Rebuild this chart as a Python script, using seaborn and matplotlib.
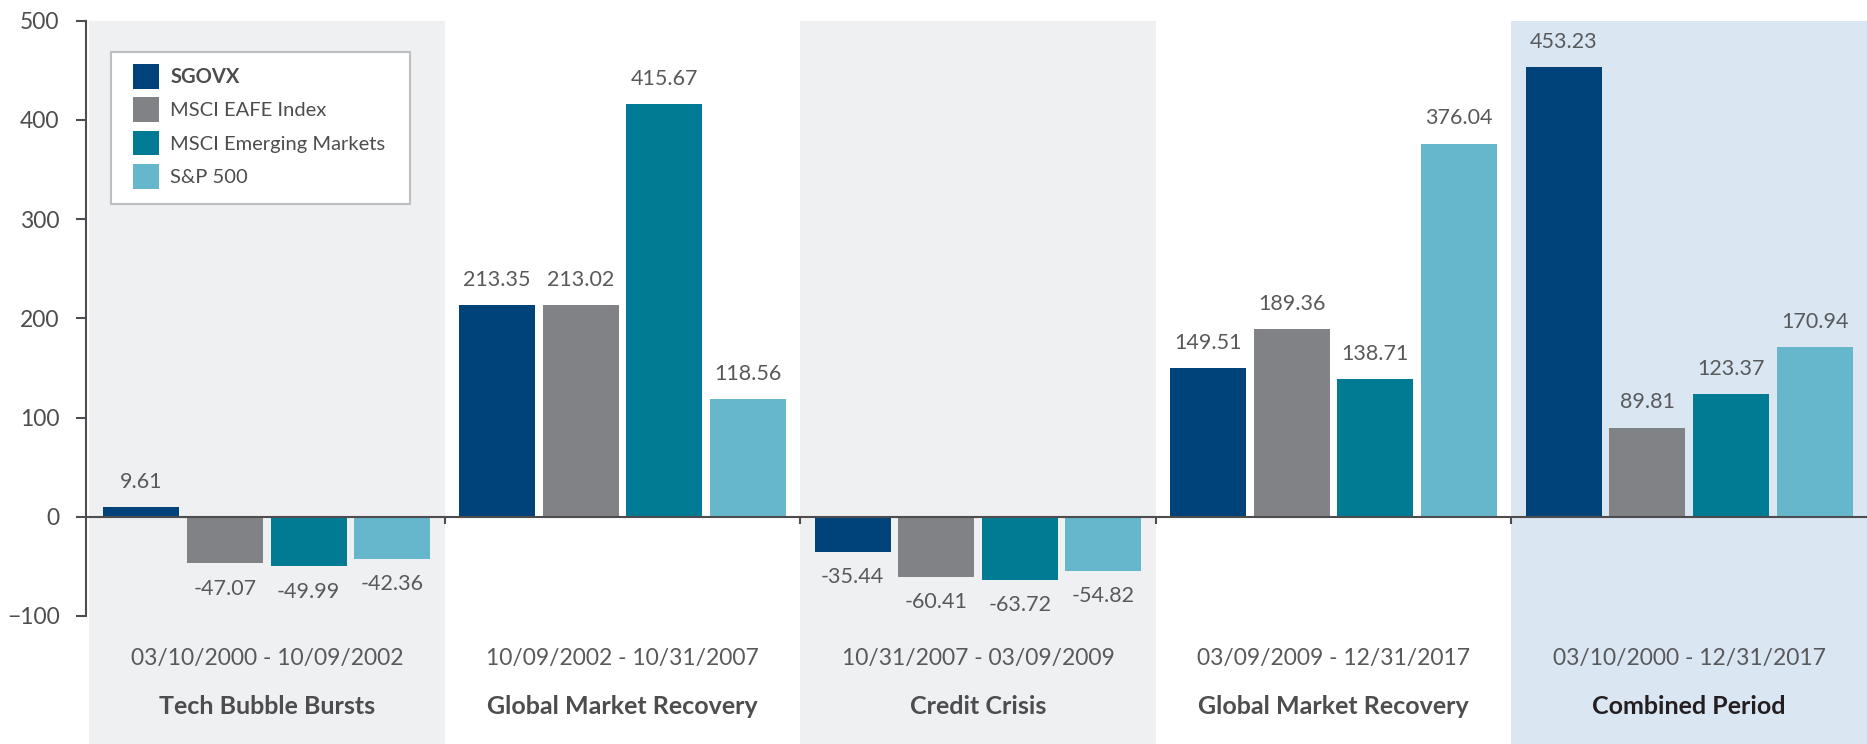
import pandas as pd
import numpy as np
import matplotlib
matplotlib.use('Agg')
import matplotlib.pyplot as plt
import seaborn as sns
from matplotlib.patches import Patch, Rectangle
from matplotlib.transforms import blended_transform_factory

# --- Data ---
periods = ['03/10/2000 - 10/09/2002', '10/09/2002 - 10/31/2007', '10/31/2007 - 03/09/2009',
           '03/09/2009 - 12/31/2017', '03/10/2000 - 12/31/2017']
period_titles = ['Tech Bubble Bursts', 'Global Market Recovery', 'Credit Crisis',
                 'Global Market Recovery', 'Combined Period']
funds = ['SGOVX', 'MSCI EAFE Index', 'MSCI Emerging Markets', 'S&P 500']

sgovx = [9.61, 213.35, -35.44, 149.51, 453.23]
eafe = [-47.07, 213.02, -60.41, 189.36, 89.81]
emerging = [-49.99, 415.67, -63.72, 138.71, 123.37]
sp500 = [-42.36, 118.56, -54.82, 376.04, 170.94]

fund_colors = ['#00427A', '#808285', '#007B93', '#66B7CB']
panel_colors = ['#EFF0F2', None, '#EFF0F2', None, '#DBE6F3']

TEXT = '#4D4D4F'
LIGHT_TEXT = '#58595B'

df = pd.DataFrame({
    'period': np.repeat(periods, 4),
    'fund': funds * 5,
    'value': np.ravel(np.column_stack([sgovx, eafe, emerging, sp500])),
})

sns.set_style('white')
plt.rcParams['font.family'] = ['Lato', 'DejaVu Sans']

W, H = 1867, 744
fig = plt.figure(figsize=(W / 100, H / 100), dpi=100)
ax = fig.add_axes([86 / W, 1 - 616 / H, 1 - 86 / W, (616 - 20.5) / H])
ax.patch.set_alpha(0)

sns.barplot(data=df, x='period', y='value', hue='fund', order=periods, hue_order=funds,
            palette=fund_colors, width=0.94, gap=0.09, errorbar=None, saturation=1,
            linewidth=0, legend=False, ax=ax, zorder=2)

ax.set_xlim(-0.5 - 3 / 356, 4.5)
ax.set_ylim(-100, 500)

# Panel backgrounds, extending below the axes to the figure bottom.
for i, c in enumerate(panel_colors):
    if c:
        ax.axvspan(i - 0.5, i + 0.5, ymin=-0.3, ymax=1, color=c, lw=0,
                   clip_on=False, zorder=0)

# Value labels
for cont in ax.containers:
    ax.bar_label(cont, fmt='%.2f', padding=11, fontsize=15.5, color=LIGHT_TEXT)

# Zero line and separators
ax.axhline(0, color=TEXT, lw=1.5, zorder=3)
ax.vlines(np.arange(len(periods) - 1) + 0.5, -7, 0, color=TEXT, lw=1.5, zorder=3)

# Axes styling
for s in ['top', 'right', 'bottom']:
    ax.spines[s].set_visible(False)
ax.spines['left'].set_color(TEXT)
ax.spines['left'].set_linewidth(1.5)
ax.set_yticks(range(-100, 501, 100))
ax.tick_params(axis='y', left=True, length=7, width=1.5, color=TEXT,
               labelsize=16.5, labelcolor=TEXT, pad=12)
ax.tick_params(axis='x', length=0, labelsize=16.5, labelcolor=LIGHT_TEXT, pad=23)
ax.set_xticks(range(len(periods)))
ax.set_xticklabels(periods)
ax.set_xlabel('')
ax.set_ylabel('')

trans = blended_transform_factory(ax.transData, fig.transFigure)
for i, t in enumerate(period_titles):
    ax.text(i, 1 - 707 / H, t, transform=trans, ha='center', va='center',
            fontsize=18, fontweight='bold',
            color='#231F20' if i == len(period_titles) - 1 else TEXT)

# Legend: frame drawn separately so the padding can match the reference
ax.add_patch(Rectangle((111 / W, 1 - 204 / H), 299 / W, 152 / H,
                       transform=fig.transFigure, facecolor='white',
                       edgecolor='#BCBEC0', lw=1.5, zorder=5, clip_on=False))
handles = [Patch(facecolor=c, edgecolor='none') for c in fund_colors]
leg = ax.legend(handles, funds, loc='upper left', bbox_to_anchor=(133 / W, 1 - 64 / H),
                bbox_transform=fig.transFigure, borderaxespad=0, borderpad=0,
                frameon=False, fontsize=14.5, handlelength=1.3, handleheight=1.5,
                handletextpad=0.55, labelspacing=0.44)
leg.set_zorder(6)
for i, txt in enumerate(leg.get_texts()):
    txt.set_color(TEXT)
    if i == 0:
        txt.set_fontweight('bold')

fig.savefig('out.png', dpi=100)
